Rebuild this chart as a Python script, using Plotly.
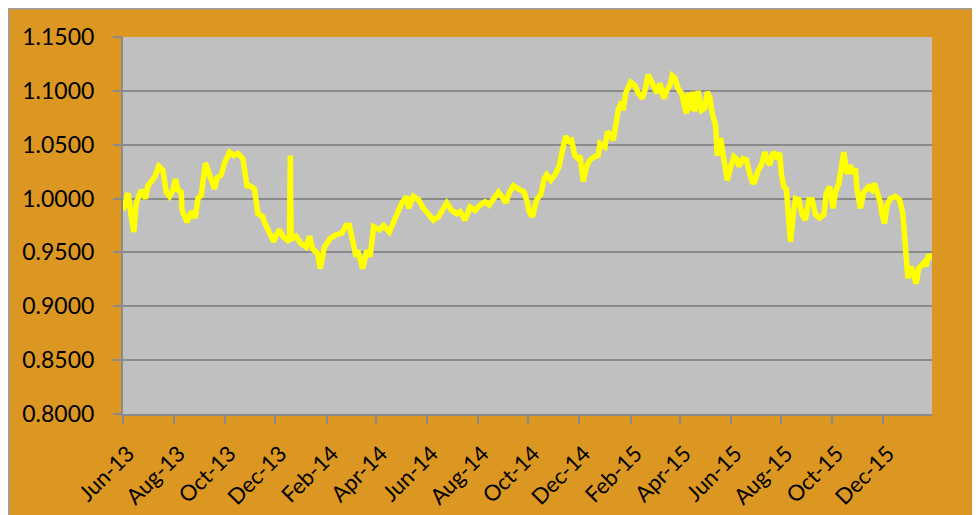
import pandas as pd
import plotly.graph_objects as go

start_date = "2013-06-01"
end_date = "2016-01-29"

# days since start_date for each observation
day_offsets = [
    0, 6, 10, 13, 16, 22, 27, 30, 34, 38, 43, 48, 52, 56, 60, 63, 66, 70, 71, 77,
    82, 87, 90, 94, 99, 103, 106, 110, 113, 118, 122, 128, 133, 138, 144, 146, 149, 152, 158, 162,
    168, 170, 176, 181, 184, 188, 192, 198, 200, 201, 202, 204, 208, 214, 220, 224, 228, 234, 237, 242,
    249, 255, 263, 268, 272, 276, 280, 282, 288, 293, 297, 301, 308, 313, 320, 325, 329, 335, 341, 343,
    349, 355, 361, 369, 373, 379, 383, 389, 395, 401, 405, 411, 417, 423, 429, 435, 440, 445, 451, 455,
    460, 464, 469, 475, 482, 486, 488, 492, 497, 502, 506, 509, 514, 519, 522, 524, 528, 532, 536, 539,
    543, 547, 549, 551, 553, 557, 561, 567, 571, 573, 579, 582, 586, 589, 592, 595, 599, 601, 604, 607,
    610, 615, 619, 624, 628, 631, 635, 639, 642, 645, 650, 653, 657, 660, 663, 667, 671, 674, 677, 679,
    682, 684, 687, 691, 695, 699, 702, 705, 708, 712, 714, 718, 721, 726, 730, 734, 737, 740, 745, 749,
    753, 757, 759, 763, 767, 771, 777, 781, 785, 789, 791, 794, 797, 799, 802, 805, 808, 812, 816, 820,
    824, 828, 832, 837, 842, 845, 849, 853, 856, 860, 864, 866, 870, 874, 877, 880, 882, 886, 890, 896,
    900, 903, 906, 910, 912, 915, 918, 922, 928, 933, 937, 940, 943, 947, 950, 953, 956, 960, 963, 965,
    968, 972,
]

rate = [
    0.989, 1.005, 0.983, 0.969, 0.996, 1.008, 1.000, 1.012, 1.016, 1.020, 1.030, 1.026, 1.006, 1.002, 1.008, 1.018, 1.008, 1.006, 0.989, 0.978,
    0.988, 0.982, 1.000, 1.003, 1.033, 1.025, 1.020, 1.009, 1.019, 1.022, 1.033, 1.043, 1.040, 1.042, 1.037, 1.026, 1.012, 1.012, 1.009, 0.986,
    0.983, 0.978, 0.969, 0.960, 0.966, 0.971, 0.965, 0.961, 0.962, 1.040, 0.963, 0.963, 0.965, 0.958, 0.955, 0.965, 0.953, 0.949, 0.935, 0.955,
    0.963, 0.966, 0.968, 0.975, 0.975, 0.961, 0.946, 0.952, 0.935, 0.952, 0.946, 0.974, 0.971, 0.975, 0.969, 0.978, 0.986, 0.996, 1.002, 0.991,
    1.002, 0.999, 0.991, 0.983, 0.980, 0.983, 0.988, 0.996, 0.989, 0.986, 0.988, 0.980, 0.992, 0.989, 0.994, 0.997, 0.994, 0.999, 1.006, 1.002,
    0.996, 1.005, 1.012, 1.009, 1.006, 0.996, 0.988, 0.983, 0.999, 1.004, 1.018, 1.022, 1.017, 1.022, 1.028, 1.030, 1.045, 1.058, 1.053, 1.054,
    1.040, 1.037, 1.040, 1.025, 1.016, 1.030, 1.036, 1.039, 1.040, 1.051, 1.048, 1.062, 1.059, 1.054, 1.071, 1.082, 1.090, 1.082, 1.098, 1.102,
    1.108, 1.105, 1.098, 1.093, 1.103, 1.115, 1.107, 1.102, 1.098, 1.107, 1.093, 1.100, 1.105, 1.114, 1.112, 1.102, 1.098, 1.085, 1.079, 1.098,
    1.082, 1.099, 1.081, 1.100, 1.082, 1.084, 1.099, 1.094, 1.079, 1.068, 1.040, 1.056, 1.043, 1.017, 1.029, 1.039, 1.037, 1.030, 1.037, 1.036,
    1.023, 1.014, 1.016, 1.026, 1.031, 1.043, 1.031, 1.043, 1.039, 1.042, 1.023, 1.011, 1.009, 0.983, 0.960, 0.983, 1.000, 0.999, 0.985, 0.980,
    0.999, 0.999, 0.985, 0.982, 0.985, 1.005, 1.011, 0.991, 1.006, 1.014, 1.033, 1.043, 1.023, 1.031, 1.023, 1.028, 1.008, 0.991, 1.006, 1.011,
    1.008, 1.014, 1.006, 0.996, 0.985, 0.977, 0.994, 1.000, 1.002, 0.999, 0.986, 0.955, 0.926, 0.937, 0.927, 0.921, 0.935, 0.938, 0.941, 0.937,
    0.948, 0.944,
]

y_range = [0.8, 1.15]
y_step = 0.05

dates = pd.Timestamp(start_date) + pd.to_timedelta(day_offsets, unit="D")

ORANGE = "#DB9721"
PLOT_BG = "#C0C0C0"
GRID = "#8A8A8A"
BORDER = "#9C9C9C"
FONT = "Lato"

fig = go.Figure()
fig.add_trace(go.Scatter(
    x=dates, y=rate, mode="lines",
    line=dict(color="#FFFF00", width=5.5),
    hoverinfo="skip", showlegend=False,
))

# grey frame border along the top and left edges of the chart
fig.add_shape(type="line", xref="paper", yref="paper",
              x0=-0.2, x1=1.2, y0=1.0769, y1=1.0769,
              line=dict(color=BORDER, width=3), layer="below")
fig.add_shape(type="line", xref="paper", yref="paper",
              x0=-0.1422, x1=-0.1422, y0=-0.4, y1=1.2,
              line=dict(color=BORDER, width=3), layer="below")

fig.update_layout(
    width=972, height=507,
    margin=dict(l=115, r=48, t=29, b=101),
    paper_bgcolor=ORANGE,
    plot_bgcolor=PLOT_BG,
    font=dict(family=FONT, size=23, color="black"),
    showlegend=False,
)
fig.update_xaxes(
    type="date", range=[start_date, end_date],
    tick0=start_date, dtick="M2", tickformat="%b-%y",
    tickangle=-45, ticks="outside", ticklen=8, tickcolor=GRID, tickwidth=2,
    showgrid=False, showline=True, linecolor=GRID, linewidth=2,
    ticklabelstandoff=8, ticklabelshift=5,
    tickfont=dict(family=FONT, size=22), automargin=False,
)
fig.update_yaxes(
    range=y_range, dtick=y_step, tick0=y_range[0], tickformat=".4f",
    ticks="outside", ticklen=8, tickcolor=GRID, tickwidth=2,
    showgrid=True, gridcolor=GRID, gridwidth=2,
    showline=True, linecolor=GRID, linewidth=2, zeroline=False,
    ticklabelstandoff=14, automargin=False,
    tickfont=dict(family=FONT, size=23),
)

fig.write_html("out.html")
